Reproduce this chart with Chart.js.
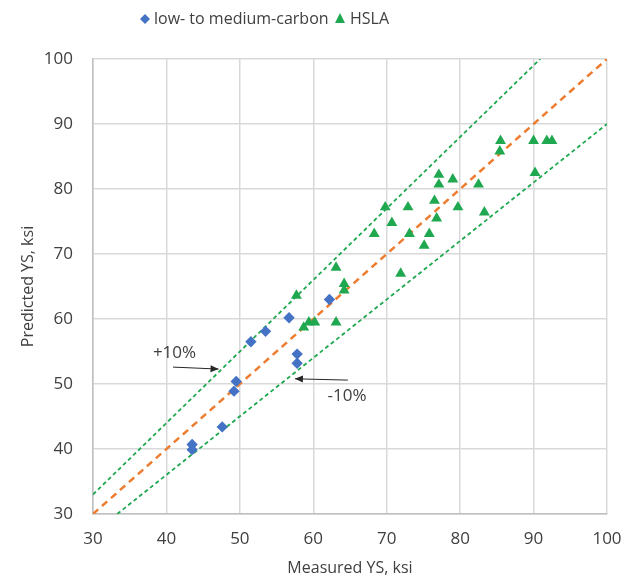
<!DOCTYPE html>
<html>
<head>
<meta charset="utf-8">
<script src="https://cdn.jsdelivr.net/npm/chart.js@4.4.0/dist/chart.umd.min.js"></script>
<style>
  html, body { margin: 0; padding: 0; background: #fff; }
  #grafico-wrap { width: 628px; height: 580px; }
</style>
</head>
<body>
<div id="grafico-wrap"><canvas id="grafico"></canvas></div>
<script>
// Datos (ksi)
const bajoCarbonoX = [43.5, 43.5, 47.6, 49.2, 49.5, 51.5, 53.5, 56.7, 57.8, 57.8, 62.2];
const bajoCarbonoY = [40.7, 39.9, 43.4, 48.9, 50.4, 56.5, 58.1, 60.2, 54.6, 53.2, 63.0];

const hslaX = [57.7, 58.7, 59.4, 60.2, 63.1, 63.1, 64.2, 64.2, 68.3, 69.8, 70.7, 71.9, 72.9, 73.1, 75.1,
               75.8, 76.5, 76.8, 77.1, 77.1, 79.0, 79.7, 82.5, 83.3, 85.4, 85.5, 90.0, 90.2, 91.8, 92.5];
const hslaY = [63.6, 58.7, 59.5, 59.5, 59.5, 67.9, 65.4, 64.4, 73.1, 77.2, 74.8, 67.0, 77.2, 73.1, 71.3,
               73.1, 78.2, 75.5, 80.7, 82.2, 81.5, 77.2, 80.7, 76.4, 85.8, 87.4, 87.4, 82.5, 87.4, 87.4];

// Líneas de referencia (extremos)
const idealX = [30, 100];
const idealY = [30, 100];
const mas10X = [30, 90.9];
const mas10Y = [33, 100];
const menos10X = [33.3, 100];
const menos10Y = [30, 90];

const ticksEje = [30, 40, 50, 60, 70, 80, 90, 100];
const nombresSeries = ['low- to medium-carbon', 'HSLA'];

// Flechas de anotación (coordenadas de datos)
const textosFlecha = ['+10%', '-10%'];
const flechaDesde = [[40.9, 52.6], [64.7, 50.6]];
const flechaHasta = [[47.1, 52.3], [57.5, 50.8]];
const textoEn = [[41.1, 54.7], [64.6, 48.1]];

const fuente = '"Open Sans", "Noto Sans", sans-serif';
const colorTexto = '#404040';
const azul = '#4472c4';
const verde = '#1fa84f';
const naranja = '#ed7d31';

function puntos(xs, ys) {
    return xs.map((x, i) => ({ x: x, y: ys[i] }));
}

// Leyenda dibujada a mano para ubicarla como en el original
const leyendaPlugin = {
    id: 'leyenda',
    afterDraw(chart) {
        const ctx = chart.ctx;
        ctx.save();
        ctx.font = '16px ' + fuente;
        ctx.fillStyle = colorTexto;
        ctx.textBaseline = 'middle';
        const y = 19;
        // rombo
        ctx.fillStyle = azul;
        ctx.beginPath();
        ctx.moveTo(145, y - 5); ctx.lineTo(150, y); ctx.lineTo(145, y + 5); ctx.lineTo(140, y);
        ctx.closePath(); ctx.fill();
        ctx.fillStyle = colorTexto;
        ctx.fillText(nombresSeries[0], 154, y);
        // triángulo
        ctx.fillStyle = verde;
        ctx.beginPath();
        ctx.moveTo(340, y - 6); ctx.lineTo(345, y + 4); ctx.lineTo(335, y + 4);
        ctx.closePath(); ctx.fill();
        ctx.fillStyle = colorTexto;
        ctx.fillText(nombresSeries[1], 350, y);
        ctx.restore();
    }
};

// Flechas +10% / -10%
const flechasPlugin = {
    id: 'flechas',
    afterDatasetsDraw(chart) {
        const ctx = chart.ctx;
        const sx = chart.scales.x, sy = chart.scales.y;
        ctx.save();
        textosFlecha.forEach((txt, i) => {
            const x1 = sx.getPixelForValue(flechaDesde[i][0]);
            const y1 = sy.getPixelForValue(flechaDesde[i][1]);
            const x2 = sx.getPixelForValue(flechaHasta[i][0]);
            const y2 = sy.getPixelForValue(flechaHasta[i][1]);
            ctx.strokeStyle = '#262626';
            ctx.fillStyle = '#262626';
            ctx.lineWidth = 1;
            ctx.beginPath();
            ctx.moveTo(x1, y1);
            ctx.lineTo(x2, y2);
            ctx.stroke();
            const ang = Math.atan2(y2 - y1, x2 - x1);
            ctx.beginPath();
            ctx.moveTo(x2, y2);
            ctx.lineTo(x2 - 8 * Math.cos(ang) + 3.5 * Math.sin(ang), y2 - 8 * Math.sin(ang) - 3.5 * Math.cos(ang));
            ctx.lineTo(x2 - 8 * Math.cos(ang) - 3.5 * Math.sin(ang), y2 - 8 * Math.sin(ang) + 3.5 * Math.cos(ang));
            ctx.closePath();
            ctx.fill();
            ctx.font = '17px ' + fuente;
            ctx.fillStyle = colorTexto;
            ctx.textAlign = 'center';
            ctx.textBaseline = 'middle';
            ctx.fillText(txt, sx.getPixelForValue(textoEn[i][0]), sy.getPixelForValue(textoEn[i][1]));
        });
        ctx.restore();
    }
};

const ctx = document.getElementById('grafico');

new Chart(ctx, {
    type: 'scatter',
    data: {
        datasets: [
            {
                label: nombresSeries[0],
                data: puntos(bajoCarbonoX, bajoCarbonoY),
                pointStyle: 'rectRot',
                pointRadius: 5.7,
                backgroundColor: azul,
                borderColor: azul,
                borderWidth: 0,
                order: 0
            },
            {
                label: nombresSeries[1],
                data: puntos(hslaX, hslaY),
                pointStyle: 'triangle',
                pointRadius: 6.3,
                backgroundColor: verde,
                borderColor: verde,
                borderWidth: 0,
                order: 0
            },
            {
                label: 'ideal',
                data: puntos(idealX, idealY),
                showLine: true,
                pointRadius: 0,
                borderColor: naranja,
                borderWidth: 2.5,
                borderDash: [7, 5],
                order: 1
            },
            {
                label: '+10%',
                data: puntos(mas10X, mas10Y),
                showLine: true,
                pointRadius: 0,
                borderColor: verde,
                borderWidth: 1.8,
                borderDash: [4, 3],
                order: 1
            },
            {
                label: '-10%',
                data: puntos(menos10X, menos10Y),
                showLine: true,
                pointRadius: 0,
                borderColor: verde,
                borderWidth: 1.8,
                borderDash: [4, 3],
                order: 1
            }
        ]
    },
    options: {
        responsive: true,
        maintainAspectRatio: false,
        animation: false,
        layout: {
            padding: { top: 59, right: 21, left: 0, bottom: 0 }
        },
        plugins: {
            legend: { display: false },
            tooltip: { enabled: false }
        },
        scales: {
            x: {
                type: 'linear',
                min: 30,
                max: 100,
                afterBuildTicks: (scale) => { scale.ticks = ticksEje.map(v => ({ value: v })); },
                afterFit: (scale) => { scale.height = 66; scale.paddingRight = 0; scale.paddingLeft = 0; },
                ticks: {
                    color: colorTexto,
                    padding: 15,
                    font: { family: fuente, size: 17 }
                },
                grid: { color: '#d9d9d9', lineWidth: 1.5, drawTicks: false },
                border: { color: '#bfbfbf', width: 1.5 },
                title: {
                    display: true,
                    text: 'Measured YS, ksi',
                    color: colorTexto,
                    font: { family: fuente, size: 16 },
                    padding: { top: 0, bottom: 2 }
                }
            },
            y: {
                type: 'linear',
                min: 30,
                max: 100,
                afterBuildTicks: (scale) => { scale.ticks = ticksEje.map(v => ({ value: v })); },
                afterFit: (scale) => { scale.width = 93; scale.paddingTop = 0; scale.paddingBottom = 0; },
                ticks: {
                    color: colorTexto,
                    padding: 20,
                    font: { family: fuente, size: 17 }
                },
                grid: { color: '#d9d9d9', lineWidth: 1.5, drawTicks: false },
                border: { color: '#bfbfbf', width: 1.5 },
                title: {
                    display: true,
                    text: 'Predicted YS, ksi',
                    color: colorTexto,
                    font: { family: fuente, size: 16 },
                    padding: { top: 19, bottom: 0 }
                }
            }
        }
    },
    plugins: [leyendaPlugin, flechasPlugin]
});
</script>
</body>
</html>
